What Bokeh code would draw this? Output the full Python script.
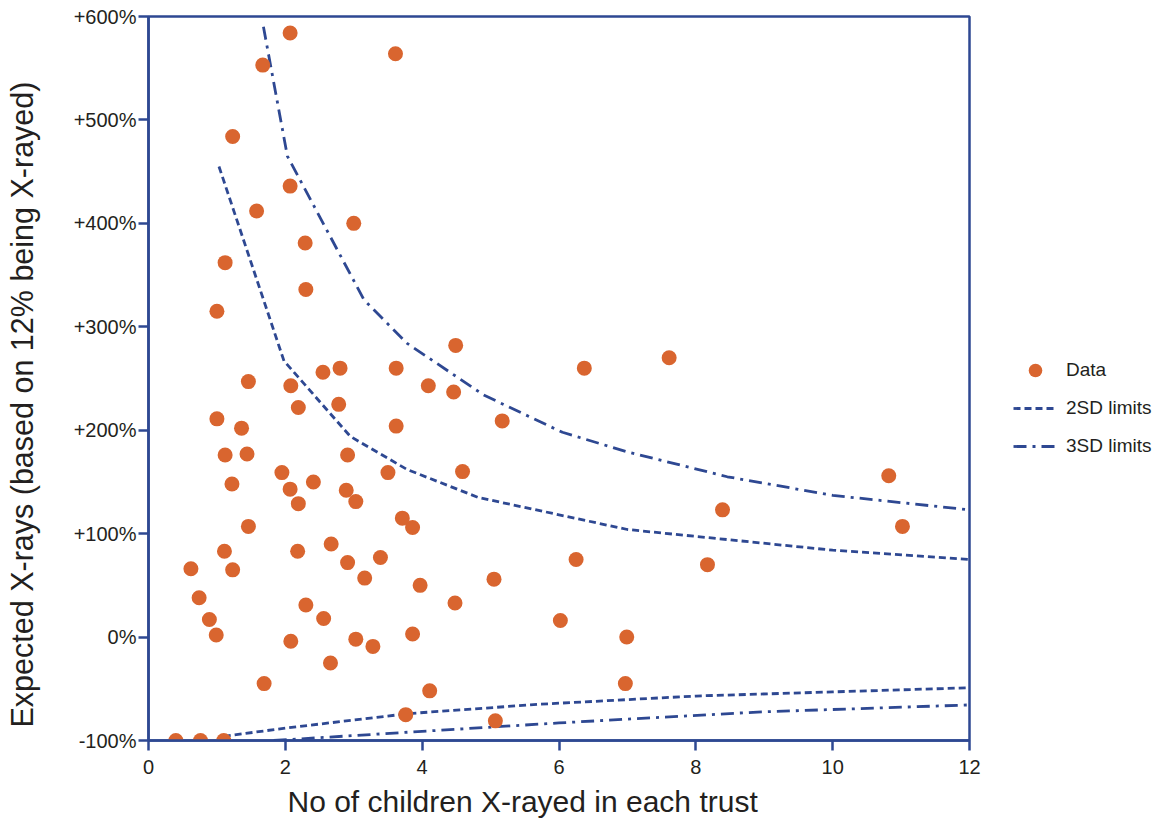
from bokeh.plotting import figure
from bokeh.models import FixedTicker, Legend, LegendItem, Range1d, ColumnDataSource, Title
from bokeh.embed import file_html
from bokeh.resources import INLINE

# ---- data ----
data_x = [2.07, 1.67, 3.61, 1.23, 2.07, 1.58, 3.00, 2.29, 1.12, 2.30,
          1.00, 4.49, 2.55, 2.80, 3.62, 1.46, 2.08, 4.09, 4.46, 2.19,
          2.78, 5.17, 1.00, 1.36, 3.62, 1.12, 1.44, 2.91, 4.59, 1.95,
          3.50, 2.41, 1.22, 2.07, 2.89, 2.19, 3.03, 3.71, 3.86, 1.46,
          1.11, 2.18, 2.67, 0.62, 1.23, 2.91, 3.39, 3.16, 3.97, 5.05,
          4.48, 6.02, 0.74, 0.89, 0.99, 2.30, 2.56, 2.08, 3.03, 3.28,
          3.86, 2.66, 1.69, 4.11, 3.76, 5.07, 0.40, 0.76, 1.10, 6.37,
          7.61, 10.82, 8.39, 11.02, 6.25, 8.17, 6.99, 6.97]
data_y = [584, 553, 564, 484, 436, 412, 400, 381, 362, 336,
          315, 282, 256, 260, 260, 247, 243, 243, 237, 222,
          225, 209, 211, 202, 204, 176, 177, 176, 160, 159,
          159, 150, 148, 143, 142, 129, 131, 115, 106, 107,
          83, 83, 90, 66, 65, 72, 77, 57, 50, 56,
          33, 16, 38, 17, 2, 31, 18, -4, -2, -9,
          3, -25, -45, -52, -75, -81, -100, -100, -100, 260,
          270, 156, 123, 107, 75, 70, 0, -45]

sd2_upper_x = [1.03, 1.98, 2.95, 3.78, 4.82, 7.0, 10.0, 12.0]
sd2_upper_y = [455, 267, 194, 162, 135, 104, 84, 75]
sd2_lower_x = [1.10, 2.0, 3.8, 5.7, 8.0, 10.0, 12.0]
sd2_lower_y = [-96, -88, -74, -65, -57, -53, -49]

sd3_upper_x = [1.68, 2.03, 3.15, 3.78, 4.90, 6.05, 7.0, 8.46, 10.0, 12.0]
sd3_upper_y = [590, 465, 326, 284, 234, 198, 179, 155, 137, 123]
sd3_lower_x = [1.83, 6.0, 8.9, 12.0]
sd3_lower_y = [-100, -83, -72.5, -65.6]

x_ticks = [0, 2, 4, 6, 8, 10, 12]
y_ticks = [-100, 0, 100, 200, 300, 400, 500, 600]
y_tick_labels = ["-100%", "0%", "+100%", "+200%", "+300%", "+400%", "+500%", "+600%"]

x_title = "No of children X-rayed in each trust"
y_title = "Expected X-rays (based on 12% being X-rayed)"
legend_labels = ["Data", "2SD limits", "3SD limits"]

# ---- style ----
FONT = "Liberation Sans"
BLUE = "#2E4892"
ORANGE = "#D9652F"
TEXT = "#231F20"
SHIFT = 32  # extra left border that is hidden with a negative CSS margin

p = figure(frame_width=821, frame_height=724,
           min_border_left=148 + SHIFT, min_border_right=185,
           min_border_top=16, min_border_bottom=77,
           x_range=Range1d(0, 12), y_range=Range1d(-100, 600),
           output_backend="svg", toolbar_location=None,
           styles={"margin-left": f"-{SHIFT}px"})

p.xgrid.visible = False
p.ygrid.visible = False
p.outline_line_color = BLUE
p.outline_line_width = 2.5
p.background_fill_color = "white"
p.border_fill_color = "white"

for ax in (p.xaxis[0], p.yaxis[0]):
    ax.axis_line_color = BLUE
    ax.axis_line_width = 2.5
    ax.major_tick_line_color = BLUE
    ax.major_tick_line_width = 2.5
    ax.major_tick_out = 10
    ax.major_tick_in = 0
    ax.minor_tick_line_color = None
    ax.major_label_text_font = FONT
    ax.major_label_text_font_size = "20px"
    ax.major_label_text_color = TEXT

p.xaxis.ticker = FixedTicker(ticks=x_ticks)
p.yaxis.ticker = FixedTicker(ticks=y_ticks)
p.yaxis.major_label_overrides = {t: l for t, l in zip(y_ticks, y_tick_labels)}
p.xaxis.major_label_standoff = 9
p.yaxis.major_label_standoff = 2

r2u = p.line(sd2_upper_x, sd2_upper_y, line_color=BLUE, line_width=2.8, line_dash="7 4")
r2l = p.line(sd2_lower_x, sd2_lower_y, line_color=BLUE, line_width=2.8, line_dash="7 4")
r3u = p.line(sd3_upper_x, sd3_upper_y, line_color=BLUE, line_width=2.8, line_dash="13 6 3 6")
r3l = p.line(sd3_lower_x, sd3_lower_y, line_color=BLUE, line_width=2.8, line_dash="13 6 3 6")

src = ColumnDataSource(dict(x=data_x, y=data_y))
rd = p.scatter("x", "y", source=src, size=15, fill_color=ORANGE, line_color=None)

legend = Legend(items=[LegendItem(label=legend_labels[0], renderers=[rd]),
                       LegendItem(label=legend_labels[1], renderers=[r2u]),
                       LegendItem(label=legend_labels[2], renderers=[r3u])],
                location=(44, 277), border_line_color=None, background_fill_alpha=0,
                padding=0, margin=0, spacing=4, glyph_width=44, glyph_height=34,
                label_height=20, label_standoff=9,
                label_text_font=FONT, label_text_font_size="19px", label_text_color=TEXT)
p.add_layout(legend, "right")

p.add_layout(Title(text=x_title, align="left", offset=139, standoff=13,
                   text_font=FONT, text_font_size="30px", text_font_style="normal",
                   text_color=TEXT), "below")
p.add_layout(Title(text=y_title, align="left", offset=13, standoff=64,
                   text_font=FONT, text_font_size="30.5px", text_font_style="normal",
                   text_color=TEXT), "left")

open("out.html", "w").write(file_html(p, INLINE))
